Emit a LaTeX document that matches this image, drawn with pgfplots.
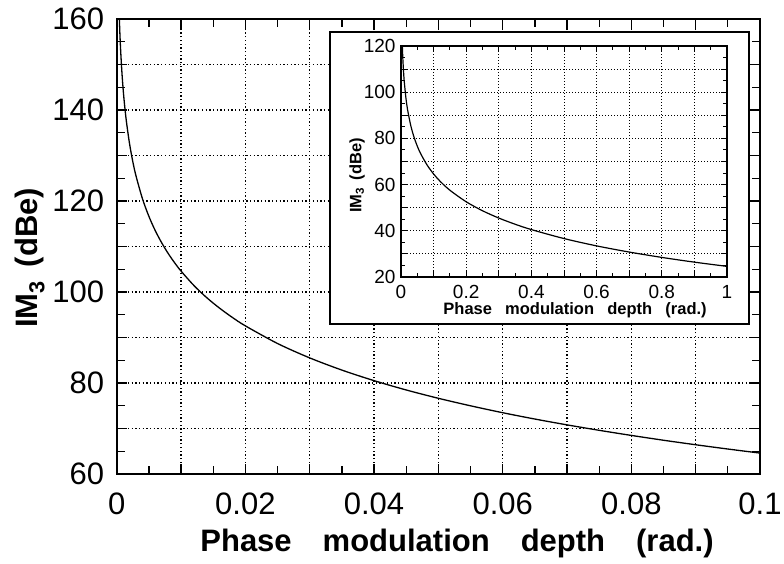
\documentclass[border=0pt]{standalone}
\usepackage{fontspec}
\setmainfont{Liberation Sans}
\usepackage{pgfplots}
\pgfplotsset{compat=1.18}

% IM3 versus phase modulation depth, full range (inset) and small-depth range (main)
\pgfplotstableread{
m        im3
0.0004   160.52
0.0005   156.64
0.0006   153.47
0.0008   148.48
0.0010   144.60
0.0012   141.43
0.0015   137.56
0.0020   132.56
0.0025   128.68
0.0030   125.52
0.0040   120.52
0.0050   116.64
0.0060   113.47
0.0070   110.80
0.0080   108.48
0.0090   106.43
0.0100   104.60
0.0120   101.43
0.0140    98.75
0.0160    96.44
0.0180    94.39
0.0200    92.56
0.0250    88.68
0.0300    85.52
0.0350    82.84
0.0400    80.52
0.0450    78.47
0.0500    76.64
0.0550    74.99
0.0600    73.47
0.0650    72.08
0.0700    70.80
0.0750    69.60
0.0800    68.48
0.0850    67.42
0.0900    66.43
0.0950    65.49
0.1000    64.60
}\smalldepth

\pgfplotstableread{
m       im3
0.0035  122.84
0.004   120.52
0.005   116.64
0.006   113.47
0.008   108.48
0.010   104.60
0.015    97.56
0.020    92.56
0.030    85.52
0.040    80.52
0.050    76.64
0.060    73.47
0.080    68.48
0.100    64.60
0.120    61.43
0.150    57.56
0.200    52.56
0.250    48.68
0.300    45.52
0.350    42.84
0.400    40.52
0.500    36.64
0.600    33.47
0.700    30.80
0.800    28.48
0.900    26.43
1.000    24.60
}\fulldepth

\pgfplotsset{
  scangrid/.style={black, line width=1.3pt, dash pattern=on 1.3pt off 2.4pt},
}

\begin{document}
\begin{tikzpicture}
\useasboundingbox (0pt,0pt) rectangle (784pt,563pt);

% main axis
\begin{axis}[
  at={(116.7pt,89pt)}, anchor=south west,
  width=643.3pt, height=455pt, scale only axis,
  xmin=0, xmax=0.1, ymin=60, ymax=160,
  xtick={0,0.01,0.02,0.03,0.04,0.05,0.06,0.07,0.08,0.09,0.1},
  xticklabels={0,,0.02,,0.04,,0.06,,0.08,,0.1},
  ytick={60,70,80,90,100,110,120,130,140,150,160},
  yticklabels={60,,80,,100,,120,,140,,160},
  minor x tick num=1, minor y tick num=1,
  tick align=inside, major tick length=10pt, minor tick length=8pt,
  every tick/.style={black, line width=1.3pt},
  axis line style={line width=1.6pt},
  grid=major, major grid style={scangrid},
  tick label style={font=\fontsize{31}{32}\selectfont},
  xticklabel style={yshift=-15pt},
  yticklabel style={xshift=-9pt},
  xlabel={\bfseries Phase\hspace{1em}modulation\hspace{1em}depth\hspace{1em}(rad.)},
  ylabel={\bfseries IM\textsubscript{3}\hspace{0.45em}(dBe)},
  label style={font=\fontsize{31}{33}\selectfont},
  xlabel style={at={(axis description cs:0.529,-0.152)}, anchor=center},
  ylabel style={at={(axis description cs:-0.1348,0.475)}, anchor=center},
]
\addplot[black, line width=1.3pt, smooth] table[x=m, y=im3] {\smalldepth};
\end{axis}

% inset frame
\fill[white] (330pt,239pt) rectangle (749pt,531pt);
\draw[line width=1.5pt] (330pt,239pt) rectangle (749pt,531pt);

% inset axis
\begin{axis}[
  at={(401pt,286pt)}, anchor=south west,
  width=326pt, height=231pt, scale only axis,
  xmin=0, xmax=1, ymin=20, ymax=120,
  xtick={0,0.1,0.2,0.3,0.4,0.5,0.6,0.7,0.8,0.9,1},
  xticklabels={0,,0.2,,0.4,,0.6,,0.8,,1},
  ytick={20,30,40,50,60,70,80,90,100,110,120},
  yticklabels={20,,40,,60,,80,,100,,120},
  minor x tick num=1, minor y tick num=1,
  tick align=inside, major tick length=6pt, minor tick length=4pt,
  every tick/.style={black, line width=1pt},
  axis line style={line width=1.2pt},
  grid=major, major grid style={black, line width=1pt, dash pattern=on 1pt off 2pt},
  tick label style={font=\fontsize{19}{20}\selectfont},
  xticklabel style={yshift=-5pt},
  yticklabel style={xshift=-2pt},
  xlabel={\bfseries Phase\hspace{0.8em}modulation\hspace{0.8em}depth\hspace{0.8em}(rad.)},
  ylabel={\bfseries IM\textsubscript{3}\hspace{0.45em}(dBe)},
  label style={font=\fontsize{16.5}{18}\selectfont},
  xlabel style={at={(axis description cs:0.534,-0.143)}, anchor=center},
  ylabel style={at={(axis description cs:-0.135,0.44)}, anchor=center},
]
\addplot[black, line width=1.2pt, smooth] table[x=m, y=im3] {\fulldepth};
\end{axis}
\end{tikzpicture}
\end{document}
